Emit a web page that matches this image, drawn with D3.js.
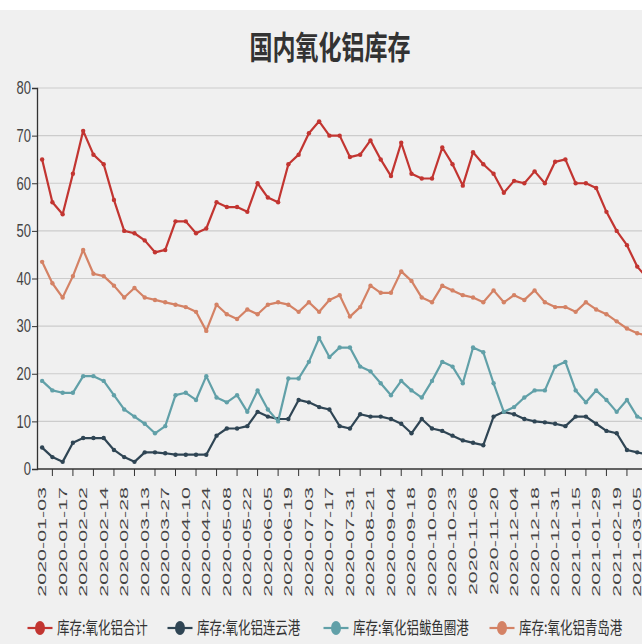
<!DOCTYPE html>
<html>
<head>
<meta charset="utf-8">
<script src="https://cdn.jsdelivr.net/npm/d3@7/dist/d3.min.js"></script>
<style>
  html, body { margin: 0; padding: 0; background: #ffffff; overflow: hidden; }
  svg { display: block; }
</style>
</head>
<body>
<svg id="chart" width="642" height="644"></svg>
<script>
const title = "国内氧化铝库存";

const categories = [
  "2020-01-03","2020-01-10","2020-01-17","2020-01-23","2020-02-02","2020-02-07",
  "2020-02-14","2020-02-21","2020-02-28","2020-03-06","2020-03-13","2020-03-20",
  "2020-03-27","2020-04-03","2020-04-10","2020-04-17","2020-04-24","2020-04-30",
  "2020-05-08","2020-05-15","2020-05-22","2020-05-29","2020-06-05","2020-06-12",
  "2020-06-19","2020-06-24","2020-07-03","2020-07-10","2020-07-17","2020-07-24",
  "2020-07-31","2020-08-14","2020-08-21","2020-08-28","2020-09-04","2020-09-11",
  "2020-09-18","2020-09-30","2020-10-09","2020-10-16","2020-10-23","2020-10-30",
  "2020-11-06","2020-11-13","2020-11-20","2020-11-27","2020-12-04","2020-12-11",
  "2020-12-18","2020-12-25","2020-12-31","2021-01-08","2021-01-15","2021-01-22",
  "2021-01-29","2021-02-05","2021-02-19","2021-02-26","2021-03-05","2021-03-12"
];

const seriesNames = ["库存:氧化铝合计", "库存:氧化铝连云港", "库存:氧化铝鲅鱼圈港", "库存:氧化铝青岛港"];
const seriesColors = ["#c23531", "#2f4554", "#61a0a8", "#d48265"];

const totalValues = [65,56,53.5,62,71,66,64,56.5,50,49.5,48,45.5,46,52,52,49.5,50.5,56,55,55,
  54,60,57,56,64,66,70.5,73,70,70,65.5,66,69,65,61.5,68.5,62,61,61,67.5,
  64,59.5,66.5,64,62,58,60.5,60,62.5,60,64.5,65,60,60,59,54,50,47,42.5,40];

const lianyungangValues = [4.5,2.5,1.5,5.5,6.5,6.5,6.5,4,2.5,1.5,3.5,3.5,3.3,3,3,3,3,7,8.5,8.5,
  9,12,11,10.5,10.5,14.5,14,13,12.5,9,8.5,11.5,11,11,10.5,9.5,7.5,10.5,8.5,8,
  7,6,5.5,5,11,12,11.5,10.5,10,9.8,9.5,9,11,11,9.5,8,7.5,4,3.5,3];

const bayuquanValues = [18.5,16.5,16,16,19.5,19.5,18.5,15.5,12.5,11,9.5,7.5,9,15.5,16,14.5,19.5,15,14,15.5,
  12,16.5,12.5,10,19,19,22.5,27.5,23.5,25.5,25.5,21.5,20.5,18,15.5,18.5,16.5,15,18.5,22.5,
  21.5,18,25.5,24.5,18,12,13,15,16.5,16.5,21.5,22.5,16.5,14,16.5,14.5,12,14.5,11,10];

const qingdaoValues = [43.5,39,36,40.5,46,41,40.5,38.5,36,38,36,35.5,35,34.5,34,33,29,34.5,32.5,31.5,
  33.5,32.5,34.5,35,34.5,33,35,33,35.5,36.5,32,34,38.5,37,37,41.5,39.5,36,35,38.5,
  37.5,36.5,36,35,37.5,35,36.5,35.5,37.5,35,34,34,33,35,33.5,32.5,31,29.5,28.5,28];

const yTicks = [0, 10, 20, 30, 40, 50, 60, 70, 80];
// tick labels: every other category
const xTickLabels = categories.filter((d, i) => i % 2 === 0);

const seriesValues = [totalValues, lianyungangValues, bayuquanValues, qingdaoValues];

(function () {
const W = 642, H = 644;
const plotLeft = 37, plotTop = 88, plotBottom = 469;
const band = 10.26;

const svg = d3.select("#chart");
const cjk = "'Noto Sans CJK SC', 'Noto Sans', sans-serif";
const latin = "'Liberation Sans', 'DejaVu Sans', sans-serif";

svg.append("rect").attr("x", 0).attr("y", 10).attr("width", W).attr("height", H - 10).attr("fill", "#f0f0f0");

const x = d3.scaleBand().domain(categories).range([plotLeft, plotLeft + band * categories.length]).padding(0);
const xc = d => x(d) + x.bandwidth() / 2;
const y = d3.scaleLinear().domain([0, 80]).range([plotBottom, plotTop]);

// grid lines
svg.append("g").selectAll("line").data(yTicks.filter(t => t > 0)).join("line")
  .attr("x1", plotLeft).attr("x2", W).attr("y1", d => y(d)).attr("y2", d => y(d))
  .attr("stroke", "#cccccc").attr("stroke-width", 1.2);

// y axis
const yAxis = svg.append("g").attr("transform", `translate(${plotLeft},0)`)
  .call(d3.axisLeft(y).tickValues(yTicks).tickSize(5).tickPadding(4));
yAxis.select(".domain").attr("stroke", "#333").attr("stroke-width", 1.3);
yAxis.selectAll(".tick line").attr("stroke", "#333");
yAxis.selectAll(".tick text").remove();
svg.append("g").selectAll("text").data(yTicks).join("text")
  .attr("transform", d => `translate(${plotLeft - 6},${y(d)}) scale(1,1.35)`)
  .attr("text-anchor", "end").attr("dy", "0.36em")
  .attr("font-family", latin).attr("font-size", 13).attr("fill", "#444")
  .text(d => d);

// x axis
svg.append("line").attr("x1", plotLeft).attr("x2", W).attr("y1", plotBottom).attr("y2", plotBottom)
  .attr("stroke", "#333").attr("stroke-width", 1.3);
svg.append("g").selectAll("line").data(categories.filter((d, i) => i % 2 === 1)).join("line")
  .attr("x1", d => xc(d)).attr("x2", d => xc(d)).attr("y1", plotBottom).attr("y2", plotBottom + 7)
  .attr("stroke", "#333").attr("stroke-width", 1);
svg.append("g").selectAll("text").data(xTickLabels).join("text")
  .attr("transform", d => `translate(${xc(d)},487) scale(1,1.95) rotate(-90)`)
  .attr("text-anchor", "end").attr("dy", "0.36em")
  .attr("font-family", latin).attr("font-size", 11).attr("fill", "#444")
  .text(d => d);

// lines
const line = d3.line().x((d, i) => xc(categories[i])).y(d => y(d));
seriesValues.forEach((vals, si) => {
  const g = svg.append("g");
  g.append("path").datum(vals).attr("d", line)
    .attr("fill", "none").attr("stroke", seriesColors[si]).attr("stroke-width", 2.2)
    .attr("stroke-linejoin", "round");
  g.selectAll("circle").data(vals).join("circle")
    .attr("cx", (d, i) => xc(categories[i])).attr("cy", d => y(d)).attr("r", 2.2)
    .attr("fill", seriesColors[si]);
});

// title
svg.append("text")
  .attr("transform", "translate(330,47) scale(1,1.4)")
  .attr("text-anchor", "middle").attr("dy", "0.36em")
  .attr("font-family", cjk).attr("font-weight", "bold").attr("font-size", 23).attr("fill", "#333")
  .text(title);

// legend
const legendX = [40, 180, 336, 502];
const ly = 628;
const lg = svg.append("g").selectAll("g").data(seriesNames).join("g")
  .attr("transform", (d, i) => `translate(${legendX[i]},${ly})`);
lg.append("line").attr("x1", -12.5).attr("x2", 12.5).attr("y1", 0).attr("y2", 0)
  .attr("stroke", (d, i) => seriesColors[i]).attr("stroke-width", 2.2);
lg.append("ellipse").attr("cx", 0).attr("cy", 0).attr("rx", 5).attr("ry", 7)
  .attr("fill", (d, i) => seriesColors[i]);
lg.append("text")
  .attr("transform", "translate(17,0) scale(1,1.4)")
  .attr("dy", "0.36em")
  .attr("font-family", cjk).attr("font-size", 12.5).attr("fill", "#333")
  .text(d => d);
})();
</script>
</body>
</html>
